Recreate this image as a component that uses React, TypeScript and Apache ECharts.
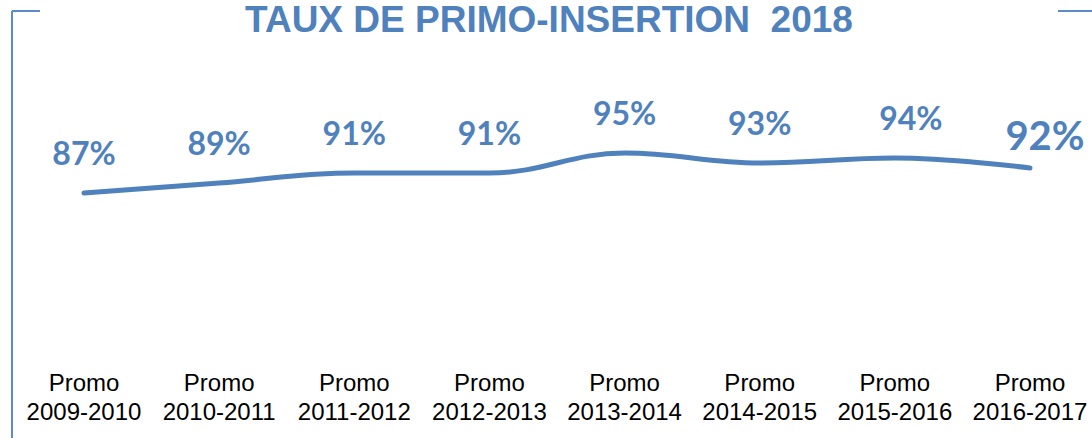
import React, { useEffect, useRef } from "react";
import * as echarts from "echarts";

const TITLE = "TAUX DE PRIMO-INSERTION  2018";
const categories = [
  "Promo\n2009-2010",
  "Promo\n2010-2011",
  "Promo\n2011-2012",
  "Promo\n2012-2013",
  "Promo\n2013-2014",
  "Promo\n2014-2015",
  "Promo\n2015-2016",
  "Promo\n2016-2017",
];
const values = [87, 89, 91, 91, 95, 93, 94, 92];

const BLUE = "#4F81BD";

export default function App() {
  const ref = useRef<HTMLDivElement>(null);
  useEffect(() => {
    if (!ref.current) return;
    const chart = echarts.init(ref.current, undefined, { renderer: "svg" });
    const lastIdx = values.length - 1;
    const data = values.map((v, i) => {
      if (i === lastIdx) {
        return {
          value: v,
          label: { fontSize: 40, offset: [15, 0], distance: 13 },
        };
      }
      if (i === 6) {
        return { value: v, label: { offset: [16, 0] } };
      }
      return { value: v };
    });
    chart.setOption({
      animation: false,
      backgroundColor: "#ffffff",
      grid: { left: 84, right: 62, top: 128, bottom: 85, containLabel: false },
      xAxis: {
        type: "category",
        data: categories,
        boundaryGap: false,
        axisLine: { show: false },
        axisTick: { show: false },
        splitLine: { show: false },
        axisLabel: {
          interval: 0,
          margin: 15,
          color: "#000000",
          fontFamily: "Liberation Sans, Arial, sans-serif",
          fontSize: 24,
          lineHeight: 29,
        },
      },
      yAxis: {
        type: "value",
        min: 55,
        max: 100,
        show: false,
        splitLine: { show: false },
      },
      series: [
        {
          type: "line",
          data,
          smooth: 0.4,
          symbol: "circle",
          symbolSize: 1,
          showSymbol: true,
          itemStyle: { color: "rgba(0,0,0,0)" },
          lineStyle: { color: BLUE, width: 5, cap: "round" },
          label: {
            show: true,
            position: "top",
            distance: 24,
            formatter: "{c}%",
            color: BLUE,
            fontFamily: "Lato, sans-serif",
            fontWeight: "bold",
            fontSize: 32,
          },
        },
      ],
      graphic: [
        {
          type: "text",
          x: 549,
          y: 19.5,
          style: {
            text: TITLE,
            fill: BLUE,
            font: "bold 37px 'Liberation Sans', Arial, sans-serif",
            lineHeight: 37,
            align: "center",
            verticalAlign: "middle",
          },
        },
        {
          type: "line",
          shape: { x1: 12, y1: 11, x2: 12, y2: 438 },
          style: { stroke: "#5B8BC8", lineWidth: 2 },
        },
        {
          type: "line",
          shape: { x1: 12, y1: 11, x2: 40, y2: 11 },
          style: { stroke: "#5B8BC8", lineWidth: 2 },
        },
        {
          type: "line",
          shape: { x1: 1058, y1: 11, x2: 1092, y2: 11 },
          style: { stroke: "#5B8BC8", lineWidth: 2 },
        },
      ],
    });
    return () => chart.dispose();
  }, []);
  return (
    <div
      ref={ref}
      style={{ position: "absolute", left: 0, top: 0, width: 1092, height: 438 }}
    />
  );
}
